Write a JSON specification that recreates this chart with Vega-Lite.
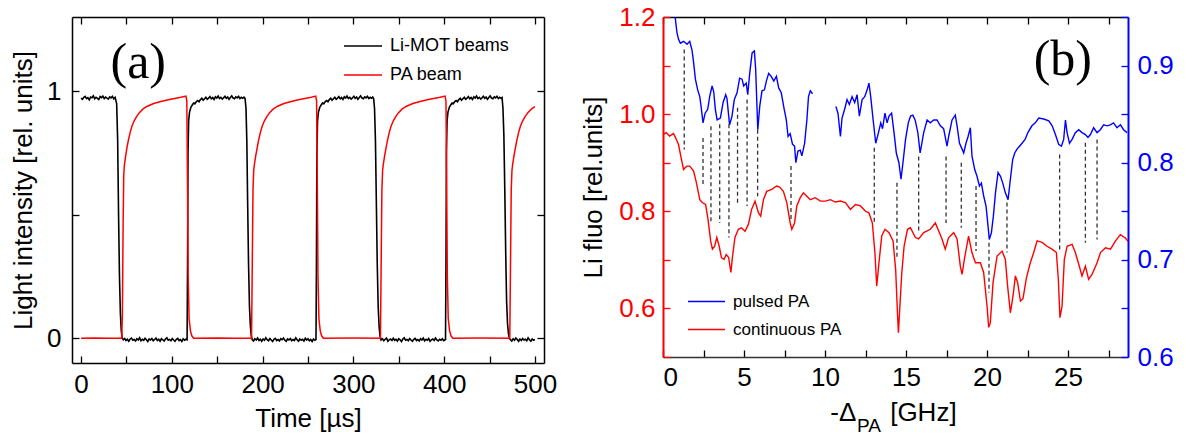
{
"$schema": "https://vega.github.io/schema/vega-lite/v6.json",
"padding": {"left": 10, "top": 4, "right": 5, "bottom": 0},
"autosize": {"type": "pad"},
"bounds": "flush",
"spacing": 119,
"datasets": {
"black": [
{"t":0,"v":0.972},{"t":1.5,"v":0.967},{"t":3,"v":0.975},{"t":4.5,"v":0.979},{"t":6,"v":0.97},{"t":7.5,"v":0.974},{"t":9,"v":0.965},{"t":10.5,"v":0.976},{"t":12,"v":0.973},{"t":13.5,"v":0.981},{"t":15,"v":0.969},{"t":16.5,"v":0.975},{"t":18,"v":0.971},{"t":19.5,"v":0.966},{"t":21,"v":0.978},{"t":22.5,"v":0.974},{"t":24,"v":0.98},{"t":25.5,"v":0.97},{"t":27,"v":0.976},{"t":28.5,"v":0.972},{"t":30,"v":0.968},{"t":31.5,"v":0.977},{"t":33,"v":0.973},{"t":34.5,"v":0.979},{"t":36,"v":0.969},{"t":37.5,"v":0.975},
{"t":39.2,"v":0.95},{"t":40.3,"v":0.8},{"t":41.3,"v":0.5},{"t":42.3,"v":0.25},{"t":43.3,"v":0.1},{"t":44.3,"v":0.03},{"t":45.3,"v":0},
{"t":46.5,"v":-0.006},{"t":48,"v":-0.001},{"t":49.5,"v":-0.009},{"t":51,"v":-0.004},{"t":52.5,"v":-0.012},{"t":54,"v":-0.003},{"t":55.5,"v":0.001},{"t":57,"v":-0.008},{"t":58.5,"v":-0.005},{"t":60,"v":-0.011},{"t":61.5,"v":-0.002},{"t":63,"v":-0.007},{"t":64.5,"v":0.002},{"t":66,"v":-0.01},{"t":67.5,"v":-0.004},{"t":69,"v":-0.008},{"t":70.5,"v":0},{"t":72,"v":-0.006},{"t":73.5,"v":-0.013},{"t":75,"v":-0.003},{"t":76.5,"v":-0.007},{"t":78,"v":-0.001},{"t":79.5,"v":-0.01},{"t":81,"v":-0.005},{"t":82.5,"v":0.001},{"t":84,"v":-0.009},{"t":85.5,"v":-0.004},{"t":87,"v":-0.012},{"t":88.5,"v":-0.002},{"t":90,"v":-0.006},{"t":91.5,"v":-0.011},{"t":93,"v":-0.003},{"t":94.5,"v":0.002},{"t":96,"v":-0.008},{"t":97.5,"v":-0.005},{"t":99,"v":-0.01},{"t":100.5,"v":-0.001},{"t":102,"v":-0.007},{"t":103.5,"v":-0.012},{"t":105,"v":-0.004},{"t":106.5,"v":0},{"t":108,"v":-0.009},{"t":109.5,"v":-0.005},{"t":111,"v":-0.013},{"t":112.5,"v":-0.002},{"t":114,"v":-0.008},{"t":115.5,"v":-0.004},{"t":116.8,"v":-0.006},
{"t":117.3,"v":0.3},{"t":117.8,"v":0.75},{"t":118.5,"v":0.88},{"t":119.5,"v":0.915},{"t":121,"v":0.935},{"t":122.5,"v":0.944},{"t":124,"v":0.952},{"t":125.5,"v":0.949},{"t":127,"v":0.958},{"t":128.5,"v":0.962},{"t":130,"v":0.957},{"t":131.5,"v":0.966},{"t":133,"v":0.971},{"t":134.5,"v":0.963},{"t":136,"v":0.969},{"t":137.5,"v":0.975},{"t":139,"v":0.967},{"t":140.5,"v":0.972},{"t":142,"v":0.978},{"t":143.5,"v":0.969},{"t":145,"v":0.974},{"t":146.5,"v":0.966},{"t":148,"v":0.977},{"t":149.5,"v":0.972},{"t":151,"v":0.98},{"t":152.5,"v":0.97},{"t":154,"v":0.975},{"t":155.5,"v":0.968},{"t":157,"v":0.973},{"t":158.5,"v":0.979},{"t":160,"v":0.971},{"t":161.5,"v":0.976},{"t":163,"v":0.967},{"t":164.5,"v":0.974},{"t":166,"v":0.981},{"t":167.5,"v":0.972},{"t":169,"v":0.969},{"t":170.5,"v":0.977},{"t":172,"v":0.973},{"t":173.5,"v":0.979},{"t":175,"v":0.97},{"t":176.5,"v":0.975},{"t":178,"v":0.971},{"t":179.5,"v":0.976},{"t":180.7,"v":0.97},
{"t":181.7,"v":0.93},{"t":182.6,"v":0.8},{"t":183.5,"v":0.55},{"t":184.5,"v":0.3},{"t":185.5,"v":0.13},{"t":186.5,"v":0.05},{"t":187.5,"v":0.01},
{"t":188.5,"v":-0.005},{"t":190,"v":-0.011},{"t":191.5,"v":-0.002},{"t":193,"v":-0.007},{"t":194.5,"v":0.001},{"t":196,"v":-0.009},{"t":197.5,"v":-0.004},{"t":199,"v":-0.012},{"t":200.5,"v":-0.003},{"t":202,"v":-0.008},{"t":203.5,"v":0.002},{"t":205,"v":-0.006},{"t":206.5,"v":-0.01},{"t":208,"v":-0.001},{"t":209.5,"v":-0.007},{"t":211,"v":-0.013},{"t":212.5,"v":-0.004},{"t":214,"v":0},{"t":215.5,"v":-0.009},{"t":217,"v":-0.005},{"t":218.5,"v":-0.011},{"t":220,"v":-0.002},{"t":221.5,"v":-0.006},{"t":223,"v":0.001},{"t":224.5,"v":-0.008},{"t":226,"v":-0.012},{"t":227.5,"v":-0.003},{"t":229,"v":-0.007},{"t":230.5,"v":-0.001},{"t":232,"v":-0.01},{"t":233.5,"v":-0.005},{"t":235,"v":-0.009},{"t":236.5,"v":0.002},{"t":238,"v":-0.006},{"t":239.5,"v":-0.012},{"t":241,"v":-0.003},{"t":242.5,"v":-0.008},{"t":244,"v":-0.004},{"t":245.5,"v":-0.011},{"t":247,"v":0},{"t":248.5,"v":-0.007},{"t":250,"v":-0.002},{"t":251.5,"v":-0.01},{"t":253,"v":-0.005},{"t":254.5,"v":-0.013},{"t":256,"v":-0.003},{"t":257.5,"v":-0.008},{"t":258.8,"v":-0.005},
{"t":259.3,"v":0.3},{"t":259.8,"v":0.75},{"t":260.5,"v":0.88},{"t":261.5,"v":0.915},{"t":263,"v":0.935},{"t":264.5,"v":0.944},{"t":266,"v":0.952},{"t":267.5,"v":0.949},{"t":269,"v":0.958},{"t":270.5,"v":0.962},{"t":272,"v":0.957},{"t":273.5,"v":0.966},{"t":275,"v":0.971},{"t":276.5,"v":0.963},{"t":278,"v":0.969},{"t":279.5,"v":0.975},{"t":281,"v":0.967},{"t":282.5,"v":0.972},{"t":284,"v":0.978},{"t":285.5,"v":0.969},{"t":287,"v":0.974},{"t":288.5,"v":0.966},{"t":290,"v":0.977},{"t":291.5,"v":0.972},{"t":293,"v":0.98},{"t":294.5,"v":0.97},{"t":296,"v":0.975},{"t":297.5,"v":0.968},{"t":299,"v":0.973},{"t":300.5,"v":0.979},{"t":302,"v":0.971},{"t":303.5,"v":0.976},{"t":305,"v":0.967},{"t":306.5,"v":0.974},{"t":308,"v":0.981},{"t":309.5,"v":0.972},{"t":311,"v":0.969},{"t":312.5,"v":0.977},{"t":314,"v":0.973},{"t":315.5,"v":0.979},{"t":317,"v":0.97},{"t":318.5,"v":0.975},{"t":320,"v":0.971},{"t":321.3,"v":0.976},{"t":322.3,"v":0.97},
{"t":323.3,"v":0.93},{"t":324.3,"v":0.8},{"t":325.3,"v":0.55},{"t":326.3,"v":0.3},{"t":327.3,"v":0.13},{"t":328.3,"v":0.05},{"t":329.3,"v":0.01},
{"t":330.5,"v":-0.007},{"t":332,"v":-0.002},{"t":333.5,"v":-0.01},{"t":335,"v":-0.004},{"t":336.5,"v":0.001},{"t":338,"v":-0.012},{"t":339.5,"v":-0.006},{"t":341,"v":-0.003},{"t":342.5,"v":-0.009},{"t":344,"v":0},{"t":345.5,"v":-0.008},{"t":347,"v":-0.004},{"t":348.5,"v":-0.011},{"t":350,"v":-0.002},{"t":351.5,"v":-0.006},{"t":353,"v":-0.013},{"t":354.5,"v":-0.003},{"t":356,"v":0.002},{"t":357.5,"v":-0.008},{"t":359,"v":-0.005},{"t":360.5,"v":-0.01},{"t":362,"v":-0.001},{"t":363.5,"v":-0.007},{"t":365,"v":-0.012},{"t":366.5,"v":-0.004},{"t":368,"v":0},{"t":369.5,"v":-0.009},{"t":371,"v":-0.005},{"t":372.5,"v":-0.011},{"t":374,"v":-0.002},{"t":375.5,"v":-0.007},{"t":377,"v":0.001},{"t":378.5,"v":-0.01},{"t":380,"v":-0.004},{"t":381.5,"v":-0.008},{"t":383,"v":-0.001},{"t":384.5,"v":-0.012},{"t":386,"v":-0.006},{"t":387.5,"v":-0.003},{"t":389,"v":-0.009},{"t":390.5,"v":0.001},{"t":392,"v":-0.007},{"t":393.5,"v":-0.011},{"t":395,"v":-0.004},{"t":396.5,"v":-0.008},{"t":398,"v":-0.002},{"t":399.5,"v":-0.01},{"t":401.5,"v":-0.005},
{"t":402,"v":0.3},{"t":402.5,"v":0.75},{"t":403.2,"v":0.88},{"t":404.2,"v":0.915},{"t":405.7,"v":0.935},{"t":407.2,"v":0.944},{"t":408.7,"v":0.952},{"t":410.2,"v":0.949},{"t":411.7,"v":0.958},{"t":413.2,"v":0.962},{"t":414.7,"v":0.957},{"t":416.2,"v":0.966},{"t":417.7,"v":0.971},{"t":419.2,"v":0.963},{"t":420.7,"v":0.969},{"t":422.2,"v":0.975},{"t":423.7,"v":0.967},{"t":425.2,"v":0.972},{"t":426.7,"v":0.978},{"t":428.2,"v":0.969},{"t":429.7,"v":0.974},{"t":431.2,"v":0.966},{"t":432.7,"v":0.977},{"t":434.2,"v":0.972},{"t":435.7,"v":0.98},{"t":437.2,"v":0.97},{"t":438.7,"v":0.975},{"t":440.2,"v":0.968},{"t":441.7,"v":0.973},{"t":443.2,"v":0.979},{"t":444.7,"v":0.971},{"t":446.2,"v":0.976},{"t":447.7,"v":0.967},{"t":449.2,"v":0.974},{"t":450.7,"v":0.981},{"t":452.2,"v":0.972},{"t":453.7,"v":0.969},{"t":455.2,"v":0.977},{"t":456.7,"v":0.973},{"t":458.2,"v":0.979},{"t":459.7,"v":0.97},{"t":461.2,"v":0.975},{"t":462.7,"v":0.971},{"t":463.8,"v":0.974},
{"t":464.8,"v":0.93},{"t":465.8,"v":0.82},{"t":466.8,"v":0.6},{"t":467.8,"v":0.35},{"t":468.8,"v":0.15},{"t":469.8,"v":0.06},{"t":470.8,"v":0.02},{"t":471.8,"v":0},
{"t":473,"v":-0.006},{"t":474.5,"v":-0.011},{"t":476,"v":-0.002},{"t":477.5,"v":-0.008},{"t":479,"v":0.001},{"t":480.5,"v":-0.005},{"t":482,"v":-0.012},{"t":483.5,"v":-0.003},{"t":485,"v":-0.009},{"t":486.5,"v":-0.001},{"t":488,"v":-0.007},{"t":489.5,"v":-0.004},{"t":491,"v":-0.01},{"t":492.5,"v":0.002},{"t":494,"v":-0.006},{"t":495.5,"v":-0.012},{"t":497,"v":-0.003},{"t":498.5,"v":-0.008},{"t":500,"v":-0.005}
],
"red": [
{"t":0,"v":0},{"t":15,"v":0.001},{"t":30,"v":0},{"t":44.8,"v":0},{"t":45.5,"v":0.1},{"t":46.3,"v":0.45},{"t":47,"v":0.66},{"t":47.7,"v":0.7},{"t":49,"v":0.735},{"t":50.5,"v":0.77},{"t":52,"v":0.8},{"t":54,"v":0.832},{"t":56,"v":0.858},{"t":58.5,"v":0.88},{"t":61,"v":0.896},{"t":64,"v":0.912},{"t":68,"v":0.927},{"t":73,"v":0.939},{"t":80,"v":0.95},{"t":88,"v":0.958},{"t":96,"v":0.965},{"t":103,"v":0.97},{"t":110,"v":0.975},{"t":115.5,"v":0.98},{"t":116.5,"v":0.96},{"t":117.3,"v":0.6},{"t":118,"v":0.25},{"t":119,"v":0.08},{"t":120.5,"v":0.03},{"t":122,"v":0.01},{"t":124,"v":0},{"t":150,"v":0.001},{"t":170,"v":0},
{"t":187.8,"v":0},{"t":188.6,"v":0.3},{"t":189.4,"v":0.6},{"t":190.2,"v":0.68},{"t":191,"v":0.705},{"t":192.5,"v":0.74},{"t":194,"v":0.77},{"t":195.5,"v":0.8},{"t":197.5,"v":0.832},{"t":199.5,"v":0.858},{"t":202,"v":0.88},{"t":204.5,"v":0.896},{"t":207.5,"v":0.912},{"t":211.5,"v":0.927},{"t":216.5,"v":0.939},{"t":223.5,"v":0.95},{"t":231.5,"v":0.958},{"t":239.5,"v":0.965},{"t":246.5,"v":0.97},{"t":253.5,"v":0.975},{"t":258.5,"v":0.98},{"t":259.5,"v":0.96},{"t":260.3,"v":0.6},{"t":261,"v":0.25},{"t":262,"v":0.08},{"t":263.5,"v":0.03},{"t":265,"v":0.01},{"t":267,"v":0},{"t":300,"v":0.001},
{"t":329.8,"v":0},{"t":330.6,"v":0.3},{"t":331.4,"v":0.6},{"t":332.2,"v":0.68},{"t":333,"v":0.705},{"t":334.5,"v":0.74},{"t":336,"v":0.77},{"t":337.5,"v":0.8},{"t":339.5,"v":0.832},{"t":341.5,"v":0.858},{"t":344,"v":0.88},{"t":346.5,"v":0.896},{"t":349.5,"v":0.912},{"t":353.5,"v":0.927},{"t":358.5,"v":0.939},{"t":365.5,"v":0.95},{"t":373.5,"v":0.958},{"t":381.5,"v":0.965},{"t":388.5,"v":0.97},{"t":395.5,"v":0.975},{"t":401,"v":0.98},{"t":402,"v":0.96},{"t":402.8,"v":0.6},{"t":403.5,"v":0.25},{"t":404.5,"v":0.08},{"t":406,"v":0.03},{"t":407.5,"v":0.01},{"t":409.5,"v":0},{"t":440,"v":0.001},
{"t":472.3,"v":0},{"t":473.1,"v":0.3},{"t":473.9,"v":0.6},{"t":474.7,"v":0.68},{"t":475.5,"v":0.705},{"t":477,"v":0.74},{"t":478.5,"v":0.77},{"t":480,"v":0.8},{"t":482,"v":0.832},{"t":484,"v":0.858},{"t":486.5,"v":0.88},{"t":489,"v":0.896},{"t":492,"v":0.912},{"t":496,"v":0.927},{"t":500,"v":0.937}
],
"cont": [
{"f":0,"L":0.958},{"f":0.2,"L":0.962},{"f":0.4,"L":0.955},{"f":0.65,"L":0.96},{"f":0.8,"L":0.95},{"f":0.96,"L":0.937},{"f":1.1,"L":0.913},{"f":1.27,"L":0.886},{"f":1.38,"L":0.89},{"f":1.48,"L":0.893},{"f":1.65,"L":0.893},{"f":1.89,"L":0.883},{"f":2.06,"L":0.859},{"f":2.27,"L":0.824},{"f":2.42,"L":0.818},{"f":2.63,"L":0.814},{"f":2.78,"L":0.783},{"f":2.94,"L":0.739},{"f":3.05,"L":0.722},{"f":3.19,"L":0.728},{"f":3.32,"L":0.746},{"f":3.47,"L":0.728},{"f":3.61,"L":0.704},{"f":3.77,"L":0.701},{"f":3.9,"L":0.711},{"f":4.05,"L":0.705},{"f":4.19,"L":0.674},{"f":4.27,"L":0.701},{"f":4.44,"L":0.746},{"f":4.65,"L":0.763},{"f":4.85,"L":0.766},{"f":5.06,"L":0.759},{"f":5.27,"L":0.773},{"f":5.47,"L":0.804},{"f":5.68,"L":0.821},{"f":5.89,"L":0.797},{"f":6.03,"L":0.79},{"f":6.2,"L":0.824},{"f":6.4,"L":0.841},{"f":6.71,"L":0.845},{"f":7.02,"L":0.852},{"f":7.2,"L":0.85},{"f":7.43,"L":0.841},{"f":7.64,"L":0.818},{"f":7.85,"L":0.776},{"f":7.95,"L":0.763},{"f":8.12,"L":0.776},{"f":8.26,"L":0.811},{"f":8.47,"L":0.828},{"f":8.67,"L":0.838},{"f":8.88,"L":0.831},{"f":9.09,"L":0.824},{"f":9.4,"L":0.828},{"f":9.71,"L":0.821},{"f":10.02,"L":0.821},{"f":10.33,"L":0.824},{"f":10.64,"L":0.819},{"f":10.95,"L":0.821},{"f":11.26,"L":0.818},{"f":11.57,"L":0.804},{"f":11.88,"L":0.814},{"f":12.19,"L":0.811},{"f":12.5,"L":0.8},{"f":12.71,"L":0.797},{"f":12.92,"L":0.776},{"f":13.08,"L":0.715},{"f":13.19,"L":0.646},{"f":13.33,"L":0.694},{"f":13.5,"L":0.749},{"f":13.7,"L":0.763},{"f":13.95,"L":0.756},{"f":14.2,"L":0.739},{"f":14.36,"L":0.68},{"f":14.47,"L":0.591},{"f":14.53,"L":0.55},{"f":14.61,"L":0.598},{"f":14.74,"L":0.674},{"f":14.88,"L":0.728},{"f":15.09,"L":0.763},{"f":15.27,"L":0.766},{"f":15.58,"L":0.746},{"f":15.78,"L":0.743},{"f":16.09,"L":0.756},{"f":16.5,"L":0.763},{"f":16.81,"L":0.776},{"f":17.01,"L":0.76},{"f":17.22,"L":0.743},{"f":17.42,"L":0.722},{"f":17.63,"L":0.746},{"f":17.94,"L":0.756},{"f":18.15,"L":0.743},{"f":18.35,"L":0.687},{"f":18.46,"L":0.67},{"f":18.6,"L":0.701},{"f":18.86,"L":0.749},{"f":19.07,"L":0.715},{"f":19.28,"L":0.694},{"f":19.59,"L":0.694},{"f":19.79,"L":0.674},{"f":20.0,"L":0.605},{"f":20.1,"L":0.561},{"f":20.2,"L":0.57},{"f":20.37,"L":0.653},{"f":20.62,"L":0.708},{"f":20.93,"L":0.718},{"f":21.13,"L":0.701},{"f":21.27,"L":0.646},{"f":21.44,"L":0.591},{"f":21.6,"L":0.625},{"f":21.75,"L":0.667},{"f":21.89,"L":0.653},{"f":22.06,"L":0.615},{"f":22.22,"L":0.62},{"f":22.43,"L":0.663},{"f":22.67,"L":0.694},{"f":22.88,"L":0.715},{"f":23.09,"L":0.739},{"f":23.4,"L":0.736},{"f":23.7,"L":0.728},{"f":24.01,"L":0.722},{"f":24.28,"L":0.715},{"f":24.4,"L":0.66},{"f":24.5,"L":0.581},{"f":24.63,"L":0.605},{"f":24.77,"L":0.701},{"f":24.94,"L":0.728},{"f":25.25,"L":0.732},{"f":25.45,"L":0.715},{"f":25.66,"L":0.691},{"f":25.86,"L":0.667},{"f":26.07,"L":0.687},{"f":26.27,"L":0.66},{"f":26.48,"L":0.67},{"f":26.79,"L":0.694},{"f":27.0,"L":0.715},{"f":27.31,"L":0.725},{"f":27.62,"L":0.722},{"f":27.93,"L":0.739},{"f":28.23,"L":0.752},{"f":28.54,"L":0.745},{"f":28.7,"L":0.738}
],
"pulsed": [
{"f":0,"R":0.965,"seg":1},{"f":0.5,"R":0.97,"seg":1},{"f":0.75,"R":0.95,"seg":1},{"f":0.86,"R":0.934,"seg":1},{"f":0.96,"R":0.927,"seg":1},{"f":1.07,"R":0.923,"seg":1},{"f":1.28,"R":0.925,"seg":1},{"f":1.48,"R":0.922,"seg":1},{"f":1.65,"R":0.925,"seg":1},{"f":1.79,"R":0.916,"seg":1},{"f":1.89,"R":0.903,"seg":1},{"f":2.0,"R":0.886,"seg":1},{"f":2.14,"R":0.875,"seg":1},{"f":2.27,"R":0.868,"seg":1},{"f":2.35,"R":0.858,"seg":1},{"f":2.47,"R":0.841,"seg":1},{"f":2.6,"R":0.851,"seg":1},{"f":2.76,"R":0.855,"seg":1},{"f":2.88,"R":0.868,"seg":1},{"f":3.03,"R":0.879,"seg":1},{"f":3.13,"R":0.873,"seg":1},{"f":3.23,"R":0.855,"seg":1},{"f":3.34,"R":0.844,"seg":1},{"f":3.54,"R":0.846,"seg":1},{"f":3.71,"R":0.862,"seg":1},{"f":3.87,"R":0.87,"seg":1},{"f":3.95,"R":0.866,"seg":1},{"f":4.11,"R":0.839,"seg":1},{"f":4.26,"R":0.848,"seg":1},{"f":4.4,"R":0.865,"seg":1},{"f":4.57,"R":0.872,"seg":1},{"f":4.73,"R":0.887,"seg":1},{"f":4.88,"R":0.886,"seg":1},{"f":4.98,"R":0.879,"seg":1},{"f":5.14,"R":0.882,"seg":1},{"f":5.23,"R":0.87,"seg":1},{"f":5.35,"R":0.892,"seg":1},{"f":5.5,"R":0.913,"seg":1},{"f":5.64,"R":0.915,"seg":1},{"f":5.72,"R":0.896,"seg":1},{"f":5.85,"R":0.834,"seg":1},{"f":5.97,"R":0.858,"seg":1},{"f":6.11,"R":0.874,"seg":1},{"f":6.26,"R":0.875,"seg":1},{"f":6.38,"R":0.884,"seg":1},{"f":6.52,"R":0.892,"seg":1},{"f":6.67,"R":0.889,"seg":1},{"f":6.84,"R":0.884,"seg":1},{"f":7.0,"R":0.889,"seg":1},{"f":7.14,"R":0.877,"seg":1},{"f":7.3,"R":0.872,"seg":1},{"f":7.47,"R":0.856,"seg":1},{"f":7.61,"R":0.844,"seg":1},{"f":7.72,"R":0.827,"seg":1},{"f":7.85,"R":0.83,"seg":1},{"f":7.99,"R":0.819,"seg":1},{"f":8.12,"R":0.817,"seg":1},{"f":8.2,"R":0.8,"seg":1},{"f":8.33,"R":0.812,"seg":1},{"f":8.47,"R":0.813,"seg":1},{"f":8.57,"R":0.807,"seg":1},{"f":8.74,"R":0.82,"seg":1},{"f":8.88,"R":0.844,"seg":1},{"f":8.98,"R":0.868,"seg":1},{"f":9.09,"R":0.874,"seg":1},{"f":9.23,"R":0.871,"seg":1},
{"f":10.67,"R":0.858,"seg":2},{"f":10.8,"R":0.851,"seg":2},{"f":10.95,"R":0.827,"seg":2},{"f":11.05,"R":0.846,"seg":2},{"f":11.21,"R":0.855,"seg":2},{"f":11.36,"R":0.865,"seg":2},{"f":11.5,"R":0.86,"seg":2},{"f":11.67,"R":0.868,"seg":2},{"f":11.83,"R":0.862,"seg":2},{"f":11.98,"R":0.87,"seg":2},{"f":12.12,"R":0.848,"seg":2},{"f":12.29,"R":0.865,"seg":2},{"f":12.45,"R":0.868,"seg":2},{"f":12.6,"R":0.875,"seg":2},{"f":12.71,"R":0.882,"seg":2},{"f":12.82,"R":0.868,"seg":2},{"f":12.97,"R":0.844,"seg":2},{"f":13.13,"R":0.82,"seg":2},{"f":13.3,"R":0.831,"seg":2},{"f":13.44,"R":0.841,"seg":2},{"f":13.55,"R":0.835,"seg":2},{"f":13.7,"R":0.851,"seg":2},{"f":13.83,"R":0.841,"seg":2},{"f":13.95,"R":0.848,"seg":2},{"f":14.11,"R":0.851,"seg":2},{"f":14.26,"R":0.831,"seg":2},{"f":14.4,"R":0.81,"seg":2},{"f":14.56,"R":0.8,"seg":2},{"f":14.69,"R":0.783,"seg":2},{"f":14.81,"R":0.8,"seg":2},{"f":14.97,"R":0.824,"seg":2},{"f":15.14,"R":0.841,"seg":2},{"f":15.28,"R":0.848,"seg":2},{"f":15.42,"R":0.849,"seg":2},{"f":15.56,"R":0.844,"seg":2},{"f":15.73,"R":0.831,"seg":2},{"f":15.87,"R":0.81,"seg":2},{"f":16.09,"R":0.831,"seg":2},{"f":16.3,"R":0.844,"seg":2},{"f":16.5,"R":0.841,"seg":2},{"f":16.71,"R":0.844,"seg":2},{"f":16.91,"R":0.844,"seg":2},{"f":17.12,"R":0.838,"seg":2},{"f":17.32,"R":0.835,"seg":2},{"f":17.53,"R":0.817,"seg":2},{"f":17.63,"R":0.827,"seg":2},{"f":17.84,"R":0.844,"seg":2},{"f":18.04,"R":0.849,"seg":2},{"f":18.15,"R":0.838,"seg":2},{"f":18.3,"R":0.82,"seg":2},{"f":18.46,"R":0.814,"seg":2},{"f":18.56,"R":0.81,"seg":2},{"f":18.7,"R":0.82,"seg":2},{"f":18.83,"R":0.827,"seg":2},{"f":18.97,"R":0.836,"seg":2},{"f":19.07,"R":0.807,"seg":2},{"f":19.24,"R":0.793,"seg":2},{"f":19.38,"R":0.786,"seg":2},{"f":19.53,"R":0.776,"seg":2},{"f":19.65,"R":0.779,"seg":2},{"f":19.79,"R":0.766,"seg":2},{"f":19.94,"R":0.755,"seg":2},{"f":20.06,"R":0.735,"seg":2},{"f":20.14,"R":0.721,"seg":2},{"f":20.27,"R":0.728,"seg":2},{"f":20.39,"R":0.745,"seg":2},{"f":20.52,"R":0.769,"seg":2},{"f":20.68,"R":0.79,"seg":2},{"f":20.83,"R":0.786,"seg":2},{"f":20.97,"R":0.779,"seg":2},{"f":21.13,"R":0.769,"seg":2},{"f":21.3,"R":0.762,"seg":2},{"f":21.44,"R":0.783,"seg":2},{"f":21.58,"R":0.803,"seg":2},{"f":21.71,"R":0.81,"seg":2},{"f":21.85,"R":0.814,"seg":2},{"f":22.0,"R":0.817,"seg":2},{"f":22.16,"R":0.82,"seg":2},{"f":22.35,"R":0.824,"seg":2},{"f":22.52,"R":0.831,"seg":2},{"f":22.77,"R":0.838,"seg":2},{"f":22.98,"R":0.841,"seg":2},{"f":23.19,"R":0.846,"seg":2},{"f":23.5,"R":0.845,"seg":2},{"f":23.81,"R":0.843,"seg":2},{"f":24.02,"R":0.838,"seg":2},{"f":24.22,"R":0.829,"seg":2},{"f":24.42,"R":0.819,"seg":2},{"f":24.59,"R":0.817,"seg":2},{"f":24.73,"R":0.824,"seg":2},{"f":24.84,"R":0.844,"seg":2},{"f":24.94,"R":0.831,"seg":2},{"f":25.09,"R":0.82,"seg":2},{"f":25.25,"R":0.824,"seg":2},{"f":25.45,"R":0.831,"seg":2},{"f":25.66,"R":0.834,"seg":2},{"f":25.86,"R":0.831,"seg":2},{"f":26.07,"R":0.829,"seg":2},{"f":26.23,"R":0.826,"seg":2},{"f":26.38,"R":0.829,"seg":2},{"f":26.58,"R":0.836,"seg":2},{"f":26.79,"R":0.831,"seg":2},{"f":26.99,"R":0.834,"seg":2},{"f":27.2,"R":0.839,"seg":2},{"f":27.41,"R":0.838,"seg":2},{"f":27.61,"R":0.839,"seg":2},{"f":27.81,"R":0.841,"seg":2},{"f":28.02,"R":0.836,"seg":2},{"f":28.23,"R":0.839,"seg":2},{"f":28.43,"R":0.834,"seg":2},{"f":28.64,"R":0.831,"seg":2}
],
"dashes": [
{"f":1.31,"top":1.133,"bot":0.927},{"f":2.47,"top":0.951,"bot":0.852},{"f":2.96,"top":0.975,"bot":0.776},{"f":3.5,"top":0.979,"bot":0.776},{"f":4.07,"top":0.979,"bot":0.746},{"f":4.6,"top":1.013,"bot":0.814},{"f":5.19,"top":1.03,"bot":0.811},{"f":5.84,"top":0.968,"bot":0.831},{"f":7.9,"top":0.893,"bot":0.783},{"f":13.04,"top":0.931,"bot":0.776},{"f":14.44,"top":0.859,"bot":0.704},{"f":15.78,"top":0.913,"bot":0.756},{"f":17.47,"top":0.913,"bot":0.776},{"f":18.41,"top":0.9,"bot":0.766},{"f":19.32,"top":0.852,"bot":0.718},{"f":20.12,"top":0.735,"bot":0.633},{"f":21.23,"top":0.818,"bot":0.715},{"f":24.48,"top":0.917,"bot":0.715},{"f":26.07,"top":0.941,"bot":0.735},{"f":26.79,"top":0.948,"bot":0.742}
],
"xtitle": [
{"f":11.93,"L":0.368,"lab":"-Δ"}
],
"xtitle2": [
{"f":14.02,"L":0.368,"lab":"[GHz]"}
]
},
"hconcat": [
{
"width": 472, "height": 346,
"layer": [
{"data": {"name": "black"},
 "mark": {"type": "line", "strokeWidth": 1.6, "clip": true},
 "encoding": {
  "x": {"field": "t", "type": "quantitative", "scale": {"domain": [-10, 510], "nice": false, "zero": false},
        "axis": {"orient": "bottom", "values": [0,50,100,150,200,250,300,350,400,450,500], "format": "d", "labelExpr": "datum.value % 100 === 0 ? datum.label : ''", "labelPadding": 15, "title": "Time [µs]", "titlePadding": 8}},
  "y": {"field": "v", "type": "quantitative", "scale": {"domain": [-0.1, 1.3], "nice": false, "zero": false},
        "axis": {"orient": "left", "values": [0, 0.5, 1], "format": ".0f", "labelExpr": "datum.value === 0.5 ? '' : datum.label", "labelPadding": 18, "title": "Light intensity [rel. units]", "titlePadding": 10}},
  "color": {"datum": "Li-MOT beams", "type": "nominal", "scale": {"domain": ["Li-MOT beams", "PA beam"], "range": ["black", "red"]},
            "legend": {"orient": "none", "legendX": 271, "legendY": 9, "title": null, "symbolType": "stroke", "symbolSize": 1444, "symbolStrokeWidth": 1.5, "labelFontSize": 18, "labelFont": "Liberation Sans", "rowPadding": -13, "labelOffset": 7, "padding": 0}}
 }},
{"data": {"name": "red"},
 "mark": {"type": "line", "strokeWidth": 1.5, "clip": true},
 "encoding": {
  "x": {"field": "t", "type": "quantitative", "scale": {"domain": [-10, 510], "nice": false, "zero": false}, "axis": null},
  "y": {"field": "v", "type": "quantitative", "scale": {"domain": [-0.1, 1.3], "nice": false, "zero": false}, "axis": null},
  "color": {"datum": "PA beam", "type": "nominal"}
 }},
{"data": {"name": "red"},
 "mark": {"type": "line", "opacity": 0},
 "encoding": {
  "x": {"field": "t", "type": "quantitative", "scale": {"domain": [-10, 510], "nice": false, "zero": false},
        "axis": {"orient": "top", "values": [0,50,100,150,200,250,300,350,400,450,500], "labels": false, "title": null}},
  "y": {"field": "v", "type": "quantitative", "scale": {"domain": [-0.1, 1.3], "nice": false, "zero": false},
        "axis": {"orient": "right", "values": [0, 0.5, 1], "labels": false, "title": null}}
 }},
{"data": {"values": [{"t": 63, "v": 1.054, "lab": "(a)"}]},
 "mark": {"type": "text", "font": "Liberation Serif", "fontSize": 50, "baseline": "alphabetic", "align": "center"},
 "encoding": {
  "x": {"field": "t", "type": "quantitative", "scale": {"domain": [-10, 510], "nice": false, "zero": false}, "axis": null},
  "y": {"field": "v", "type": "quantitative", "scale": {"domain": [-0.1, 1.3], "nice": false, "zero": false}, "axis": null},
  "text": {"field": "lab"}
 }}
],
"resolve": {"axis": {"x": "independent", "y": "independent"}}
},
{
"width": 465, "height": 340,
"layer": [
{"data": {"name": "cont"},
 "mark": {"type": "line", "strokeWidth": 1.4, "clip": true},
 "encoding": {
  "x": {"field": "f", "type": "quantitative", "scale": {"domain": [0, 28.7], "nice": false, "zero": false},
        "axis": {"orient": "bottom", "values": [0,2.5,5,7.5,10,12.5,15,17.5,20,22.5,25,27.5], "format": "d", "labelExpr": "datum.value % 5 === 0 ? datum.label : ''", "labelPadding": 14, "title": null, "domainColor": "#333333"}},
  "y": {"field": "L", "type": "quantitative", "scale": {"domain": [0.5, 1.2], "nice": false, "zero": false},
        "axis": {"orient": "left", "values": [0.5,0.6,0.7,0.8,0.9,1.0,1.1,1.2], "format": ".1f", "labelExpr": "round(datum.value*10) % 2 === 0 ? datum.label : ''", "labelColor": "red", "tickColor": "red", "domainColor": "red", "domainWidth": 2, "labelPadding": 15, "title": "Li fluo [rel.units]", "titlePadding": 12}},
  "color": {"datum": "continuous PA", "type": "nominal", "scale": {"domain": ["pulsed PA", "continuous PA"], "range": ["blue", "red"]},
            "legend": {"orient": "none", "legendX": 24, "legendY": 265, "title": null, "symbolType": "stroke", "symbolSize": 1369, "symbolStrokeWidth": 1.5, "labelFontSize": 17, "labelFont": "Liberation Sans", "rowPadding": -15, "labelOffset": 7, "padding": 0}}
 }},
{"data": {"name": "pulsed"},
 "mark": {"type": "line", "strokeWidth": 1.4, "clip": true},
 "encoding": {
  "x": {"field": "f", "type": "quantitative", "scale": {"domain": [0, 28.7], "nice": false, "zero": false},
        "axis": {"orient": "top", "values": [0,2.5,5,7.5,10,12.5,15,17.5,20,22.5,25,27.5], "labels": false, "title": null}},
  "y": {"field": "R", "type": "quantitative", "scale": {"domain": [0.6, 0.95], "nice": false, "zero": false},
        "axis": {"orient": "right", "values": [0.6,0.65,0.7,0.75,0.8,0.85,0.9,0.95], "format": ".1f", "labelExpr": "round(datum.value*100) % 10 === 0 ? datum.label : ''", "labelColor": "blue", "tickColor": "blue", "domainColor": "blue", "domainWidth": 2, "labelPadding": 16, "title": null}},
  "detail": {"field": "seg"},
  "color": {"datum": "pulsed PA", "type": "nominal"}
 }},
{"data": {"name": "dashes"},
 "mark": {"type": "rule", "strokeDash": [4, 3], "strokeWidth": 1.3, "color": "#333333"},
 "encoding": {
  "x": {"field": "f", "type": "quantitative", "scale": {"domain": [0, 28.7], "nice": false, "zero": false}, "axis": null},
  "y": {"field": "top", "type": "quantitative", "scale": {"domain": [0.5, 1.2], "nice": false, "zero": false}, "axis": null},
  "y2": {"field": "bot"}
 }},
{"data": {"values": [{"f": 24.68, "L": 1.081, "lab": "(b)"}]},
 "mark": {"type": "text", "font": "Liberation Serif", "fontSize": 50, "baseline": "alphabetic", "align": "center"},
 "encoding": {
  "x": {"field": "f", "type": "quantitative", "scale": {"domain": [0, 28.7], "nice": false, "zero": false}, "axis": null},
  "y": {"field": "L", "type": "quantitative", "scale": {"domain": [0.5, 1.2], "nice": false, "zero": false}, "axis": null},
  "text": {"field": "lab"}
 }},
{"data": {"name": "xtitle"},
 "mark": {"type": "text", "font": "Liberation Sans", "fontSize": 26, "baseline": "alphabetic", "align": "right", "clip": false},
 "encoding": {
  "x": {"field": "f", "type": "quantitative", "scale": {"domain": [0, 28.7], "nice": false, "zero": false}, "axis": null},
  "y": {"field": "L", "type": "quantitative", "scale": {"domain": [0.5, 1.2], "nice": false, "zero": false}, "axis": null},
  "text": {"field": "lab"}
 }},
{"data": {"name": "xtitle2"},
 "mark": {"type": "text", "font": "Liberation Sans", "fontSize": 26, "baseline": "alphabetic", "align": "left", "clip": false},
 "encoding": {
  "x": {"field": "f", "type": "quantitative", "scale": {"domain": [0, 28.7], "nice": false, "zero": false}, "axis": null},
  "y": {"field": "L", "type": "quantitative", "scale": {"domain": [0.5, 1.2], "nice": false, "zero": false}, "axis": null},
  "text": {"field": "lab"}
 }},
{"data": {"values": [{"f": 11.98, "L": 0.345, "lab": "PA"}]},
 "mark": {"type": "text", "font": "Liberation Sans", "fontSize": 19, "baseline": "alphabetic", "align": "left", "clip": false},
 "encoding": {
  "x": {"field": "f", "type": "quantitative", "scale": {"domain": [0, 28.7], "nice": false, "zero": false}, "axis": null},
  "y": {"field": "L", "type": "quantitative", "scale": {"domain": [0.5, 1.2], "nice": false, "zero": false}, "axis": null},
  "text": {"field": "lab"}
 }}
],
"resolve": {"scale": {"y": "independent"}, "axis": {"x": "independent", "y": "independent"}}
}
],
"resolve": {"scale": {"x": "independent", "y": "independent", "color": "independent"}, "legend": {"color": "independent"}},
"config": {
 "view": {"stroke": null},
 "font": "Liberation Sans",
 "axis": {"labelFont": "Liberation Sans", "titleFont": "Liberation Sans", "labelFontSize": 26, "titleFontSize": 26, "titleFontWeight": "normal", "labelColor": "black", "titleColor": "black", "tickColor": "black", "domainColor": "black", "domainWidth": 1.5, "tickWidth": 1.3, "tickSize": -7, "grid": false, "labelOverlap": false}
}
}
